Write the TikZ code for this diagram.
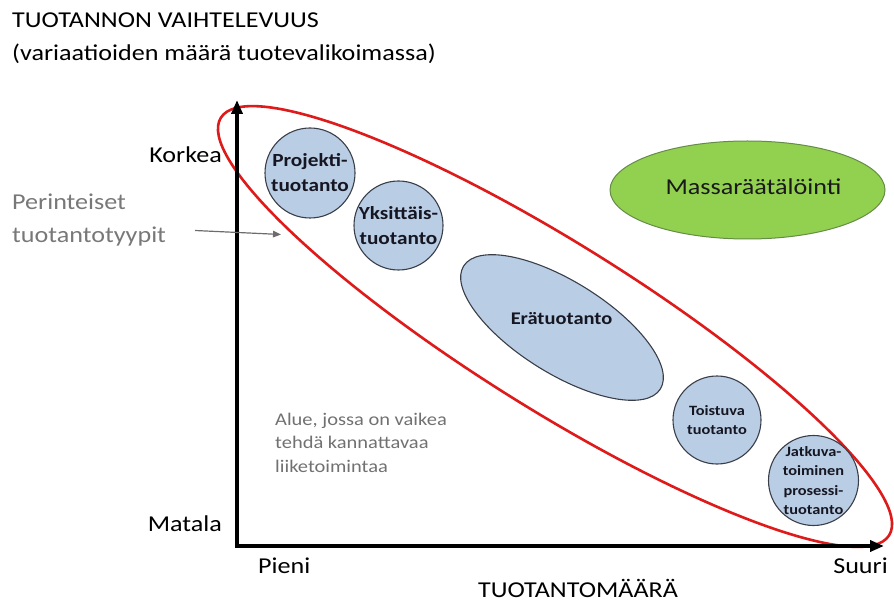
\documentclass[tikz,border=0pt]{standalone}
\usepackage{fontspec}
\setmainfont{Carlito}[FakeStretch=1.15]
\usetikzlibrary{shapes.geometric,arrows.meta}
\definecolor{ered}{RGB}{222,26,26}
\definecolor{bfill}{RGB}{185,205,228}
\definecolor{bline}{RGB}{58,62,72}
\definecolor{gfill}{RGB}{146,208,80}
\definecolor{gline}{RGB}{100,140,70}
\definecolor{gtext}{RGB}{120,120,120}
\definecolor{dtext}{RGB}{22,22,34}
\begin{document}
\begin{tikzpicture}[x=1pt,y=-1pt,
  lbl/.style={inner sep=0pt, text=black, font=\fontsize{22.7}{33}\selectfont},
  graylbl/.style={inner sep=0pt, text=gtext, font=\fontsize{22.7}{33}\selectfont, align=left},
  notelbl/.style={inner sep=0pt, text=gtext!105, font=\fontsize{17.8}{23.5}\selectfont, align=left},
  bluecirc/.style={circle, draw=bline, line width=1.1pt, fill=bfill, inner sep=0pt, minimum size=#1},
  bluetxt/.style={inner sep=0pt, text=dtext, align=center, font=\bfseries\fontsize{18.5}{25}\selectfont},
  smalltxt/.style={inner sep=0pt, text=dtext, align=center, font=\bfseries\fontsize{14.2}{19.6}\selectfont},
  axisline/.style={line width=3.6pt, line join=miter, -{Triangle[length=14pt,width=11pt]}},
]
\useasboundingbox (0,0) rectangle (894,601);

% traditional production types (red ellipse)
\node[ellipse, draw=ered, line width=2.6pt, minimum width=788pt, minimum height=166pt,
      inner sep=0pt, rotate=-32] (trad) at (555,326.5) {};

% axes
\coordinate (ytop) at (237,100);
\coordinate (orig) at (237,546);
\coordinate (xend) at (884,546);
\draw[axisline, {Triangle[length=14pt,width=11pt]}-{Triangle[length=14pt,width=11pt]}]
  (ytop) -- (orig) -- (xend);

% title
\node[lbl, anchor=base west] (title) at (12,28) {TUOTANNON VAIHTELEVUUS};
\node[lbl, anchor=base west] (subtitle) at (12,61) {(variaatioiden määrä tuotevalikoimassa)};

% axis labels
\node[lbl, anchor=base east] (korkea) at (222,162.5) {Korkea};
\node[lbl, anchor=base east] (matala) at (222,531) {Matala};
\node[lbl, anchor=base west] (pieni) at (258,573) {Pieni};
\node[lbl, anchor=base east] (suuri) at (888,573) {Suuri};
\node[lbl, anchor=base] (xlabel) at (578,597) {TUOTANTOMÄÄRÄ};

% Perinteiset tuotantotyypit
\node[graylbl, anchor=base west] (perin) at (12,243) {Perinteiset\\tuotantotyypit};
\coordinate (pstart) at (195,230.5);
\coordinate (pend) at (281,234.5);
\draw[draw=gtext!90!black, line width=1.2pt, -{Triangle[length=8pt,width=6.5pt]}] (pstart) -- (pend);

% note
\node[notelbl, anchor=base west] (note) at (275,472) {Alue, jossa on vaikea\\tehdä kannattavaa\\liiketoimintaa};

% mass customisation
\node[ellipse, draw=gline, line width=1pt, fill=gfill, minimum width=275pt, minimum height=98pt, inner sep=0pt] (mass) at (747.5,190) {};
\node[lbl, anchor=base, text=black!90] (masstxt) at (753.5,195) {Massaräätälöinti};

% production types
\node[bluecirc=90pt] (proj) at (310,173) {};
\node[bluetxt] (projtxt) at (proj.center) {Projekti-\\tuotanto};

\node[bluecirc=89pt] (yks) at (398.5,225.5) {};
\node[bluetxt] (ykstxt) at (yks.center) {Yksittäis-\\tuotanto};

\node[ellipse, draw=bline, line width=1.1pt, fill=bfill, minimum width=232pt, minimum height=92pt, inner sep=0pt, rotate=-32] (era) at (562,327.5) {};
\node[bluetxt, anchor=base, font=\bfseries\fontsize{17.8}{24}\selectfont] (eratxt) at (561.5,325) {Erätuotanto};

\node[bluecirc=88pt] (tois) at (717,420) {};
\node[smalltxt] (toistxt) at (tois.center) {Toistuva\\tuotanto};

\node[bluecirc=90pt] (jatk) at (813.5,480.5) {};
\node[smalltxt] (jatktxt) at (jatk.center) {Jatkuva-\\toiminen\\prosessi-\\tuotanto};
\end{tikzpicture}
\end{document}
